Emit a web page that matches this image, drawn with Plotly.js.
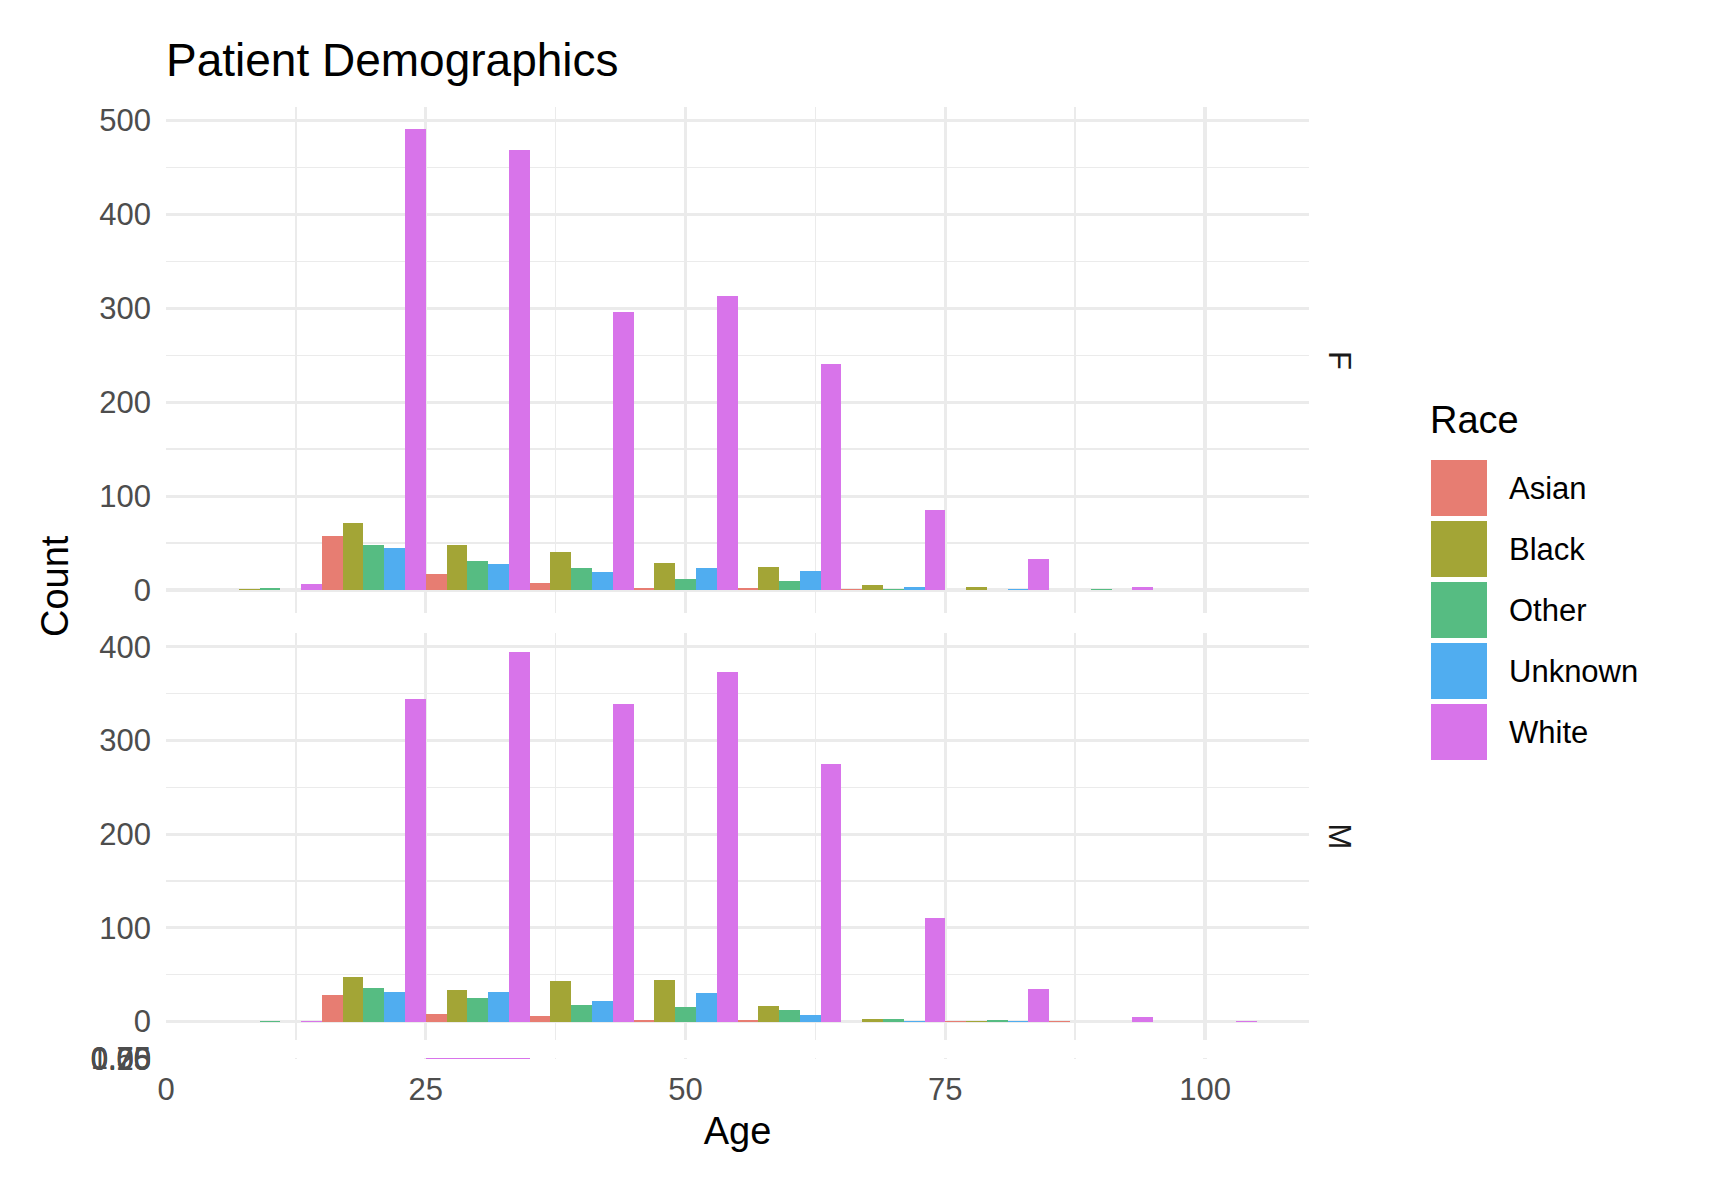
<!DOCTYPE html>
<html>
<head>
<meta charset="utf-8">
<script src="https://cdn.plot.ly/plotly-3.0.1.min.js"></script>
<style>
  body { margin: 0; background: #fff; }
  #chart { width: 1724px; height: 1184px; }
</style>
</head>
<body>
<div id="chart"></div>
<script>
// histogram counts, binwidth 10, bins centred on these ages
const ageBins = [10, 20, 30, 40, 50, 60, 70, 80, 90, 100];
const races = ['Asian', 'Black', 'Other', 'Unknown', 'White'];
const raceColors = ['#E77D72', '#A3A536', '#56BC82', '#50ADF0', '#D874EA'];

// Sex = F
const femaleAsian   = [0, 57, 17, 7, 2, 2, 1, 0, 0, 0];
const femaleBlack   = [1, 71, 48, 41, 29, 24, 5, 3, 0, 0];
const femaleOther   = [2, 48, 31, 23, 12, 10, 1, 0, 1, 0];
const femaleUnknown = [0, 45, 28, 19, 23, 20, 3, 1, 0, 0];
const femaleWhite   = [6, 491, 469, 296, 313, 241, 85, 33, 3, 0];

// Sex = M
const maleAsian   = [0, 28, 8, 6, 2, 2, 0, 1, 1, 0];
const maleBlack   = [0, 48, 34, 43, 44, 17, 3, 1, 0, 0];
const maleOther   = [1, 36, 25, 18, 15, 12, 3, 2, 0, 0];
const maleUnknown = [0, 32, 32, 22, 30, 7, 1, 1, 0, 0];
const maleWhite   = [1, 344, 395, 339, 373, 275, 111, 35, 5, 1];

// Sex missing: only one White patient
const naWhite = [0, 0, 1, 0, 0, 0, 0, 0, 0, 0];

const panels = [
  { label: 'F', xa: 'x', ya: 'y', series: [femaleAsian, femaleBlack, femaleOther, femaleUnknown, femaleWhite] },
  { label: 'M', xa: 'x2', ya: 'y2', series: [maleAsian, maleBlack, maleOther, maleUnknown, maleWhite] },
  { label: '', xa: 'x3', ya: 'y3', series: [null, null, null, null, naWhite] }
];

// page geometry (pixels)
const W = 1724, H = 1184;
const ML = 166, MR = 415, MT = 107, MB = 125;
const plotW = W - ML - MR, plotH = H - MT - MB;
const px = v => (v - ML) / plotW;
const py = v => (H - MB - v) / plotH;

const FONT = 'Liberation Sans, Arial, Helvetica, sans-serif';
const GRID = '#EBEBEB';

const traces = [];
panels.forEach(p => {
  p.series.forEach((vals, i) => {
    if (!vals) return;
    traces.push({
      type: 'bar',
      x: ageBins,
      y: vals,
      name: races[i],
      xaxis: p.xa,
      yaxis: p.ya,
      marker: { color: raceColors[i], line: { width: 0 } },
      showlegend: false,
      hoverinfo: 'x+y+name'
    });
  });
});

function xAxis(anchor, labels) {
  return {
    anchor: anchor,
    range: [0, 110],
    tick0: 0, dtick: 25,
    showticklabels: labels,
    ticks: '',
    ticklabelstandoff: 9,
    tickfont: { size: 31, color: '#4D4D4D', family: FONT },
    showgrid: true, gridcolor: GRID, gridwidth: 3.2,
    minor: { dtick: 12.5, showgrid: true, gridcolor: GRID, gridwidth: 1.6 },
    zeroline: false, showline: false
  };
}

function yAxis(domain, range, dtick, minor) {
  const ax = {
    domain: domain,
    range: range,
    tick0: 0, dtick: dtick,
    ticks: '',
    ticklabelstandoff: 14,
    tickfont: { size: 31, color: '#4D4D4D', family: FONT },
    showgrid: true, gridcolor: GRID, gridwidth: 3.2,
    zeroline: false, showline: false
  };
  if (minor) ax.minor = { dtick: minor, showgrid: true, gridcolor: GRID, gridwidth: 1.6 };
  return ax;
}

const fDomain = [py(613), 1];
const mDomain = [py(1040), py(633)];
const naDomain = [0, 0.00105];

const yNA = yAxis(naDomain, [-0.05, 1.05], 0.25, null);
yNA.tickmode = 'array';
yNA.tickvals = [0, 0.25, 0.5, 0.75, 1];
yNA.ticktext = ['0.00', '0.25', '0.50', '0.75', '1.00'];
yNA.gridwidth = 1;

const annotations = [
  {
    text: 'Count', xref: 'paper', yref: 'paper',
    x: px(55), y: py(586), xanchor: 'center', yanchor: 'middle',
    textangle: -90, showarrow: false,
    font: { size: 38, color: '#000', family: FONT }
  },
  {
    text: 'F', xref: 'paper', yref: 'paper',
    x: px(1339), y: (fDomain[0] + fDomain[1]) / 2, xanchor: 'center', yanchor: 'middle',
    textangle: 90, showarrow: false,
    font: { size: 31, color: '#1A1A1A', family: FONT }
  },
  {
    text: 'M', xref: 'paper', yref: 'paper',
    x: px(1339), y: (mDomain[0] + mDomain[1]) / 2, xanchor: 'center', yanchor: 'middle',
    textangle: 90, showarrow: false,
    font: { size: 31, color: '#1A1A1A', family: FONT }
  },
  {
    text: 'Race', xref: 'paper', yref: 'paper',
    x: px(1428), y: py(420), xanchor: 'left', yanchor: 'middle',
    showarrow: false,
    font: { size: 38, color: '#000', family: FONT }
  }
];

// hand-built legend with large keys, as in ggplot
const shapes = [];
const keySize = 56, keyStep = 61, keyTop = 460, keyLeft = 1431;
races.forEach((r, i) => {
  const top = keyTop + i * keyStep;
  shapes.push({
    type: 'rect', xref: 'paper', yref: 'paper',
    x0: px(keyLeft), x1: px(keyLeft + keySize),
    y0: py(top + keySize), y1: py(top),
    fillcolor: raceColors[i], line: { width: 0 }
  });
  annotations.push({
    text: r, xref: 'paper', yref: 'paper',
    x: px(1507), y: py(top + keySize / 2), xanchor: 'left', yanchor: 'middle',
    showarrow: false,
    font: { size: 31, color: '#000', family: FONT }
  });
});

const layout = {
  width: W, height: H,
  margin: { l: ML, r: MR, t: MT, b: MB },
  paper_bgcolor: '#fff', plot_bgcolor: '#fff',
  font: { family: FONT },
  title: {
    text: 'Patient Demographics',
    xref: 'paper', x: 0, xanchor: 'left',
    yref: 'container', y: 1 - 60 / H, yanchor: 'middle',
    font: { size: 46, color: '#000', family: FONT }
  },
  barmode: 'group', bargap: 0, bargroupgap: 0,
  showlegend: false,
  xaxis: xAxis('y', false),
  xaxis2: xAxis('y2', false),
  xaxis3: Object.assign(xAxis('y3', true), {
    title: { text: 'Age', standoff: 11, font: { size: 38, color: '#000', family: FONT } }
  }),
  yaxis: yAxis(fDomain, [-24.5, 514.5], 100, 50),
  yaxis2: yAxis(mDomain, [-19.75, 414.75], 100, 50),
  yaxis3: yNA,
  annotations: annotations,
  shapes: shapes
};

Plotly.newPlot('chart', traces, layout, { displayModeBar: false, staticPlot: true });
</script>
</body>
</html>
